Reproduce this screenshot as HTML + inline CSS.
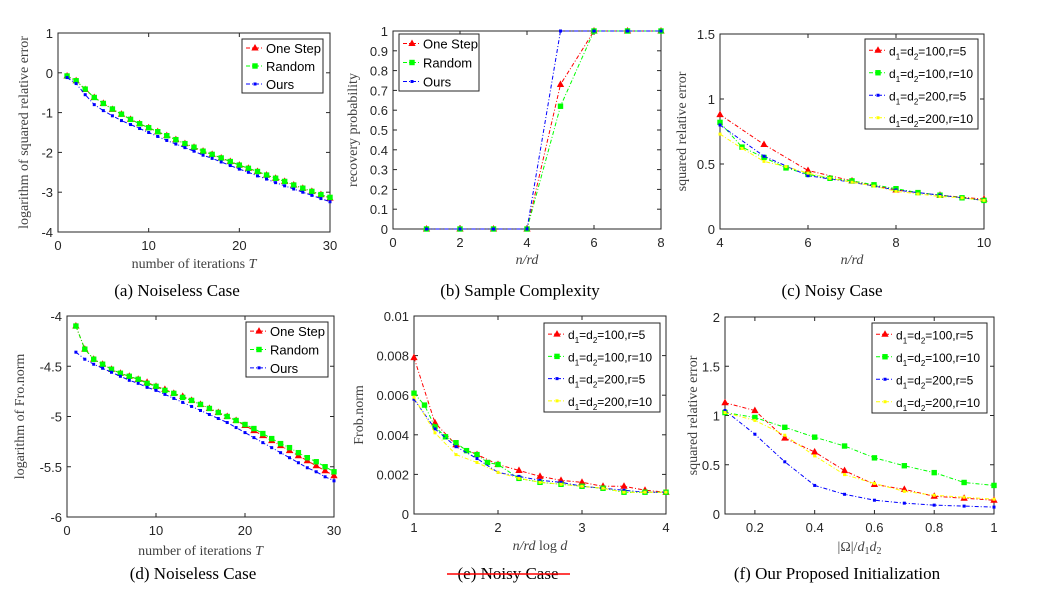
<!DOCTYPE html>
<html><head><meta charset="utf-8"><style>
body{margin:0;background:#fff}
svg{display:block}
.tk{font-family:"Liberation Sans",sans-serif;font-size:13px;fill:#262626}
.al{font-family:"Liberation Serif",serif;font-size:14px;fill:#404040}
.cap{font-family:"Liberation Serif",serif;font-size:17px;fill:#000}
.lg{font-family:"Liberation Sans",sans-serif;font-size:13px;fill:#000}
.lg4{font-size:12px}
</style></head><body>
<svg id="fig" width="1038" height="595" xmlns="http://www.w3.org/2000/svg"></svg>
<script>
// ---- data ----
const iterT = [1,2,3,4,5,6,7,8,9,10,11,12,13,14,15,16,17,18,19,20,21,22,23,24,25,26,27,28,29,30];
const aOneStep = [-0.08,-0.2,-0.42,-0.62,-0.77,-0.92,-1.04,-1.17,-1.28,-1.38,-1.48,-1.58,-1.68,-1.78,-1.87,-1.97,-2.05,-2.14,-2.23,-2.32,-2.4,-2.48,-2.57,-2.65,-2.73,-2.82,-2.9,-2.98,-3.06,-3.15];
const aRandom = [-0.08,-0.2,-0.41,-0.62,-0.77,-0.91,-1.04,-1.17,-1.28,-1.38,-1.48,-1.58,-1.68,-1.78,-1.87,-1.97,-2.05,-2.14,-2.23,-2.32,-2.4,-2.48,-2.57,-2.65,-2.73,-2.82,-2.9,-2.98,-3.06,-3.13];
const aOurs = [-0.12,-0.27,-0.55,-0.8,-0.95,-1.08,-1.2,-1.3,-1.4,-1.5,-1.6,-1.7,-1.79,-1.88,-1.97,-2.07,-2.15,-2.24,-2.33,-2.42,-2.5,-2.59,-2.67,-2.76,-2.84,-2.92,-3.0,-3.08,-3.16,-3.24];
const bX = [1,2,3,4,5,6,7,8];
const bOneStep = [0,0,0,0,0.73,1,1,1];
const bRandom = [0,0,0,0,0.62,1,1,1];
const bOurs = [0,0,0,0,1,1,1,1];
const cXint = [4,5,6,7,8,9,10];
const cXhalf = [4,4.5,5,5.5,6,6.5,7,7.5,8,8.5,9,9.5,10];
const cRed = [0.88,0.65,0.45,0.37,0.3,0.26,0.23];
const cGreen = [0.82,0.63,0.55,0.47,0.42,0.39,0.37,0.34,0.31,0.28,0.26,0.24,0.22];
const cBlue = [0.8,0.56,0.41,0.36,0.3,0.26,0.22];
const cYellow = [0.73,0.62,0.52,0.48,0.43,0.39,0.36,0.33,0.29,0.27,0.25,0.24,0.22];
const dOneStep = [-4.1,-4.33,-4.43,-4.48,-4.53,-4.57,-4.6,-4.63,-4.66,-4.7,-4.73,-4.77,-4.8,-4.84,-4.88,-4.92,-4.96,-5.0,-5.04,-5.09,-5.14,-5.19,-5.24,-5.29,-5.34,-5.39,-5.44,-5.49,-5.54,-5.59];
const dRandom = [-4.1,-4.33,-4.43,-4.48,-4.53,-4.57,-4.6,-4.63,-4.67,-4.7,-4.74,-4.77,-4.81,-4.84,-4.88,-4.92,-4.96,-5.0,-5.04,-5.08,-5.12,-5.17,-5.22,-5.27,-5.31,-5.36,-5.41,-5.45,-5.5,-5.55];
const dOurs = [-4.36,-4.43,-4.48,-4.52,-4.56,-4.6,-4.64,-4.67,-4.71,-4.74,-4.78,-4.82,-4.86,-4.9,-4.94,-4.98,-5.02,-5.06,-5.11,-5.16,-5.21,-5.26,-5.31,-5.36,-5.41,-5.46,-5.51,-5.55,-5.6,-5.64];
const eX = [1,1.25,1.5,1.75,2,2.25,2.5,2.75,3,3.25,3.5,3.75,4];
const eXg = [1,1.125,1.25,1.375,1.5,1.625,1.75,1.875,2,2.25,2.5,2.75,3,3.25,3.5,3.75,4];
const eRed = [0.0079,0.0046,0.0035,0.003,0.0025,0.0022,0.0019,0.0017,0.0016,0.0014,0.0014,0.0012,0.0011];
const eGreen = [0.0061,0.0055,0.0044,0.0039,0.0036,0.0032,0.003,0.0026,0.0025,0.0018,0.0016,0.0015,0.0014,0.0013,0.0011,0.0011,0.0011];
const eBlue = [0.0058,0.0043,0.0034,0.0028,0.0021,0.0019,0.0017,0.0016,0.0014,0.0013,0.0012,0.0011,0.0011];
const eYellow = [0.0059,0.0041,0.003,0.0026,0.0021,0.0018,0.0016,0.0015,0.0014,0.0013,0.0011,0.0011,0.0011];
const fX = [0.1,0.2,0.3,0.4,0.5,0.6,0.7,0.8,0.9,1];
const fRed = [1.13,1.05,0.77,0.63,0.44,0.3,0.25,0.18,0.16,0.14];
const fGreen = [1.03,0.98,0.88,0.78,0.69,0.57,0.49,0.42,0.32,0.29];
const fBlue = [1.05,0.81,0.53,0.29,0.2,0.14,0.11,0.09,0.08,0.07];
const fYellow = [1.03,0.95,0.8,0.59,0.4,0.31,0.23,0.19,0.17,0.15];

const NS="http://www.w3.org/2000/svg";
const svg=document.getElementById('fig');
function el(tag,attrs,parent){const e=document.createElementNS(NS,tag);for(const k in attrs)e.setAttribute(k,attrs[k]);(parent||svg).appendChild(e);return e;}
const COL={r:'#ff0000',g:'#00ff00',b:'#0000ff',y:'#ffff00'};
function marker(g,kind,col,x,y){
  let m;
  if(kind==='tri'){m=el('path',{d:`M${x},${y-3}L${x+2.8},${y+2}L${x-2.8},${y+2}Z`,fill:col,stroke:col},g);}
  else if(kind==='sq'){m=el('rect',{x:x-2.2,y:y-2.2,width:4.4,height:4.4,fill:col,stroke:col},g);}
  else {m=el('rect',{x:x-1.5,y:y-1.5,width:3,height:3,fill:col},g);}
  
  
}
function chart(o){
  const g=el('g',{});
  
  
  const X=v=>o.L+(v-o.x0)/(o.x1-o.x0)*(o.R-o.L);
  const Y=v=>o.B-(v-o.y0)/(o.y1-o.y0)*(o.B-o.T);
  const box=el('rect',{x:o.L,y:o.T,width:o.R-o.L,height:o.B-o.T,fill:'#fff',stroke:'#262626','stroke-width':1},g);
  
  
  o.xt.forEach((v,i)=>{const x=X(v);
    el('line',{x1:x,x2:x,y1:o.B,y2:o.B-4,stroke:'#262626'},g);
    el('line',{x1:x,x2:x,y1:o.T,y2:o.T+4,stroke:'#262626'},g);
    const t=el('text',{x:x,y:o.B+18,'text-anchor':'middle',class:'tk'},g);t.textContent=o.xtl[i];
    
    });
  o.yt.forEach((v,i)=>{const y=Y(v);
    el('line',{x1:o.L,x2:o.L+4,y1:y,y2:y,stroke:'#262626'},g);
    el('line',{x1:o.R,x2:o.R-4,y1:y,y2:y,stroke:'#262626'},g);
    const t=el('text',{x:o.L-5,y:y+5,'text-anchor':'end',class:'tk'},g);t.textContent=o.ytl[i];
    
    });
  o.series.forEach(s=>{
    const pts=s.x.map((xv,i)=>X(xv)+','+Y(s.y[i])).join(' ');
    const pl=el('polyline',{points:pts,fill:'none',stroke:COL[s.c],'stroke-width':1,'stroke-dasharray':'4,2,1,2'},g);
    
    
    s.x.forEach((xv,i)=>marker(g,s.m,COL[s.c],X(xv),Y(s.y[i])));
  });
  const lgd=el('g',{},g);
  
  
  const lg=o.lg;
  el('rect',{x:lg.x,y:lg.y,width:lg.w,height:lg.h,fill:'#fff',stroke:'#262626'},lgd);
  const step=lg.h/o.series.length;
  o.series.forEach((s,i)=>{
    const cy=lg.y+step*(i+0.5);
    el('line',{x1:lg.x+4,x2:lg.x+22,y1:cy,y2:cy,stroke:COL[s.c],'stroke-dasharray':'4,2,1,2'},lgd);
    marker(lgd,s.m,COL[s.c],lg.x+13,cy);
    const t=el('text',{x:lg.x+24,y:cy+5,class:'lg'},lgd);
    
    
    if(typeof s.lab==='object'){
      const p=s.lab.p;
      t.setAttribute('class','lg lg4');
      t.innerHTML=`d<tspan dy="4" font-size="8">1</tspan><tspan dy="-4">=d</tspan><tspan dy="4" font-size="8">2</tspan><tspan dy="-4">=${p}</tspan>`;
    } else t.textContent=s.lab;
  });
  const xl=el('text',{x:(o.L+o.R)/2,y:o.xly,'text-anchor':'middle',class:'al'},g);
  xl.innerHTML=o.xlab;
  
  
  const ym=(o.T+o.B)/2;
  const yl=el('text',{x:o.ylx,y:ym,'text-anchor':'middle',class:'al',transform:`rotate(-90 ${o.ylx} ${ym})`},g);
  yl.textContent=o.ylab;
  
  
  const cp=el('text',{x:o.capx,y:o.capy,'text-anchor':'middle',class:'cap'},g);
  cp.textContent=o.cap;
  
  
  return cp;
}
const three=(x1,x2,x3)=>[
 {x:x1.x,y:x1.y,c:'r',m:'tri',lab:'One Step'},
 {x:x2.x,y:x2.y,c:'g',m:'sq',lab:'Random'},
 {x:x3.x,y:x3.y,c:'b',m:'dot',lab:'Ours'}];
const it='<tspan font-style="italic">T</tspan>';
chart({name:'chart-a',L:58,R:330,T:33,B:232,x0:0,x1:30,y0:-4,y1:1,
 xt:[0,10,20,30],xtl:['0','10','20','30'],yt:[-4,-3,-2,-1,0,1],ytl:['-4','-3','-2','-1','0','1'],
 series:three({x:iterT,y:aOneStep},{x:iterT,y:aRandom},{x:iterT,y:aOurs}),
 lg:{x:242,y:39,w:81,h:54},xlab:'number of iterations '+it,xly:268,ylab:'logarithm of squared relative error',ylx:28,
 cap:'(a) Noiseless Case',capx:177,capy:296});
chart({name:'chart-b',L:393,R:661,T:31,B:229,x0:0,x1:8,y0:0,y1:1,
 xt:[0,2,4,6,8],xtl:['0','2','4','6','8'],yt:[0,0.1,0.2,0.3,0.4,0.5,0.6,0.7,0.8,0.9,1],ytl:['0','0.1','0.2','0.3','0.4','0.5','0.6','0.7','0.8','0.9','1'],
 series:three({x:bX,y:bOneStep},{x:bX,y:bRandom},{x:bX,y:bOurs}),
 lg:{x:399,y:34,w:80,h:57},xlab:'<tspan font-style="italic">n/rd</tspan>',xly:264,ylab:'recovery probability',ylx:357,
 cap:'(b) Sample Complexity',capx:520,capy:296});
const four=(a,b,c,d)=>[
 {x:a.x,y:a.y,c:'r',m:'tri',lab:{p:'100,r=5'}},
 {x:b.x,y:b.y,c:'g',m:'sq',lab:{p:'100,r=10'}},
 {x:c.x,y:c.y,c:'b',m:'dot',lab:{p:'200,r=5'}},
 {x:d.x,y:d.y,c:'y',m:'dot',lab:{p:'200,r=10'}}];
chart({name:'chart-c',L:720,R:984,T:34,B:229,x0:4,x1:10,y0:0,y1:1.5,
 xt:[4,6,8,10],xtl:['4','6','8','10'],yt:[0,0.5,1,1.5],ytl:['0','0.5','1','1.5'],
 series:four({x:cXint,y:cRed},{x:cXhalf,y:cGreen},{x:cXint,y:cBlue},{x:cXhalf,y:cYellow}),
 lg:{x:865,y:39,w:113,h:90},xlab:'<tspan font-style="italic">n/rd</tspan>',xly:264,ylab:'squared relative error',ylx:686,
 cap:'(c) Noisy Case',capx:832,capy:296});
chart({name:'chart-d',L:67,R:334,T:316,B:517,x0:0,x1:30,y0:-6,y1:-4,
 xt:[0,10,20,30],xtl:['0','10','20','30'],yt:[-6,-5.5,-5,-4.5,-4],ytl:['-6','-5.5','-5','-4.5','-4'],
 series:three({x:iterT,y:dOneStep},{x:iterT,y:dRandom},{x:iterT,y:dOurs}),
 lg:{x:246,y:322,w:82,h:55},xlab:'number of iterations '+it,xly:555,ylab:'logarithm of Fro.norm',ylx:24,
 cap:'(d) Noiseless Case',capx:193,capy:579});
chart({name:'chart-e',L:414,R:666,T:316,B:514,x0:1,x1:4,y0:0,y1:0.01,
 xt:[1,2,3,4],xtl:['1','2','3','4'],yt:[0,0.002,0.004,0.006,0.008,0.01],ytl:['0','0.002','0.004','0.006','0.008','0.01'],
 series:four({x:eX,y:eRed},{x:eXg,y:eGreen},{x:eX,y:eBlue},{x:eX,y:eYellow}),
 lg:{x:544,y:323,w:116,h:89},xlab:'<tspan font-style="italic">n/rd</tspan> log <tspan font-style="italic">d</tspan>',xly:550,ylab:'Frob.norm',ylx:363,
 cap:'(e) Noisy Case',capx:508,capy:579});
const strike=el('line',{x1:447,x2:570,y1:574,y2:574,stroke:'#ff0000','stroke-width':1.5});


chart({name:'chart-f',L:725,R:994,T:317,B:514,x0:0.1,x1:1,y0:0,y1:2,
 xt:[0.2,0.4,0.6,0.8,1],xtl:['0.2','0.4','0.6','0.8','1'],yt:[0,0.5,1,1.5,2],ytl:['0','0.5','1','1.5','2'],
 series:four({x:fX,y:fRed},{x:fX,y:fGreen},{x:fX,y:fBlue},{x:fX,y:fYellow}),
 lg:{x:872,y:323,w:115,h:90},xlab:'|Ω|/<tspan font-style="italic">d</tspan><tspan font-size="10" dy="3">1</tspan><tspan font-style="italic" dy="-3">d</tspan><tspan font-size="10" dy="3">2</tspan>',xly:551,ylab:'squared relative error',ylx:697,
 cap:'(f) Our Proposed Initialization',capx:837,capy:579});
</script>
</body></html>
